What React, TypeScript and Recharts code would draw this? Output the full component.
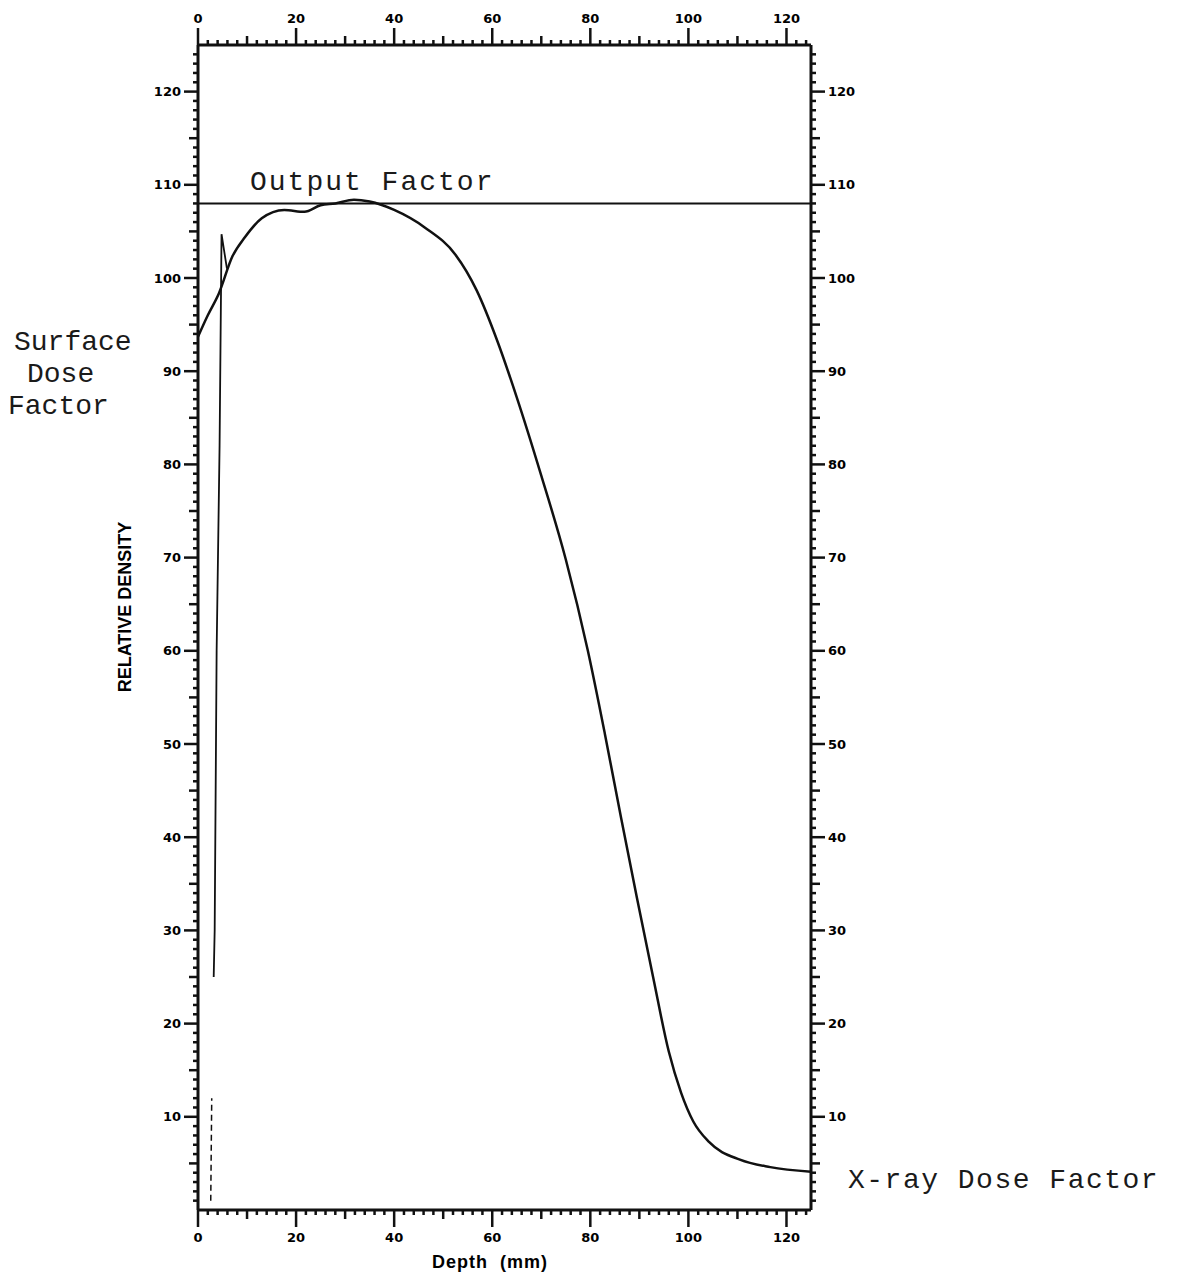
import { LineChart, Line, XAxis, YAxis } from "recharts"

// depth-dose curve, mm vs relative density
const DEPTH = [0, 2, 4.3, 7, 9.6, 13, 17.6, 21.7, 25, 28, 31.8, 35, 40, 46.3, 52.5, 56.8, 61, 65, 70, 75, 79.5, 83, 86.3, 89.5, 92.8, 96, 98.5, 101, 104.2, 110.5, 116.7, 125]
const DENSITY = [93.7, 96, 98.4, 102.3, 104.4, 106.4, 107.3, 107.1, 107.8, 108, 108.4, 108.2, 107.3, 105.4, 102.5, 98.7, 93.3, 87.2, 78.8, 69.8, 60, 51, 42, 33.5, 25, 17, 12.6, 9.5, 7.3, 5.4, 4.6, 4.1]

// surface spike near zero depth
const SPIKE_LOW_X = [2.6, 2.8]
const SPIKE_LOW_Y = [1, 12]
const SPIKE_X = [3.2, 3.4, 3.8, 4.4, 4.8, 5.9]
const SPIKE_Y = [25, 30, 60, 82, 104.7, 101]

const OUTPUT_FACTOR = 108

const X_LABELS = [0, 20, 40, 60, 80, 100, 120]
const Y_LABELS = [10, 20, 30, 40, 50, 60, 70, 80, 90, 100, 110, 120]

const X_TICKS = Array.from({ length: 63 }, (_, i) => i * 2)
const Y_TICKS = Array.from({ length: 124 }, (_, i) => i + 1)

const curve = DEPTH.map((x, i) => ({ x, y: DENSITY[i] }))
const spikeLow = SPIKE_LOW_X.map((x, i) => ({ x, y: SPIKE_LOW_Y[i] }))
const spike = SPIKE_X.map((x, i) => ({ x, y: SPIKE_Y[i] }))
const outputLine = [{ x: 0, y: OUTPUT_FACTOR }, { x: 125, y: OUTPUT_FACTOR }]

const INK = "#111"
const TICK_FONT = { fontFamily: "DejaVu Sans", fontWeight: 700, fontSize: 13, fill: "#000" }
const MONO = { fontFamily: "Liberation Mono", fontSize: 28, color: "#1a1a1a", lineHeight: "28px", whiteSpace: "pre" as const }

type TickProps = { x?: number; y?: number; payload?: { value: number } }

function tickLen(v: number, major: number, mid: number, long: number) {
  if (v % major === 0) return long
  if (v % mid === 0) return 9
  return 5
}

function yTick(side: "left" | "right") {
  return function Tick({ x = 0, y = 0, payload }: TickProps) {
    const v = payload ? payload.value : 0
    const len = tickLen(v, 10, 5, 14)
    const dir = side === "left" ? -1 : 1
    return (
      <g>
        <line x1={x} y1={y} x2={x + dir * len} y2={y} stroke={INK} strokeWidth={2.5} />
        {Y_LABELS.includes(v) && (
          <text x={x + dir * (len + 3)} y={y} textAnchor={side === "left" ? "end" : "start"} dominantBaseline="central" style={TICK_FONT}>
            {v}
          </text>
        )}
      </g>
    )
  }
}

function xTick(side: "top" | "bottom") {
  return function Tick({ x = 0, y = 0, payload }: TickProps) {
    const v = payload ? payload.value : 0
    const len = tickLen(v, 20, 10, 17)
    const dir = side === "top" ? -1 : 1
    return (
      <g>
        <line x1={x} y1={y} x2={x} y2={y + dir * len} stroke={INK} strokeWidth={2.5} />
        {X_LABELS.includes(v) && (
          <text x={x} y={y + dir * (len + 10)} textAnchor="middle" dominantBaseline="central" style={TICK_FONT}>
            {v}
          </text>
        )}
      </g>
    )
  }
}

const axisLine = { stroke: INK, strokeWidth: 3 }

export default function App() {
  return (
    <div style={{ position: "absolute", left: 0, top: 0, width: 1177, height: 1281, background: "#fff" }}>
      <LineChart width={1177} height={1281} margin={{ top: 0, right: 0, bottom: 0, left: 0 }}>
        <XAxis xAxisId="bottom" type="number" dataKey="x" domain={[0, 125]} ticks={X_TICKS} interval={0}
          height={71} axisLine={axisLine} tickLine={false} tickSize={0} tickMargin={0} tick={xTick("bottom")} />
        <XAxis xAxisId="top" orientation="top" type="number" dataKey="x" domain={[0, 125]} ticks={X_TICKS} interval={0}
          height={45} axisLine={axisLine} tickLine={false} tickSize={0} tickMargin={0} tick={xTick("top")} />
        <YAxis yAxisId="left" type="number" domain={[0, 125]} ticks={Y_TICKS} interval={0}
          width={198} axisLine={axisLine} tickLine={false} tickSize={0} tickMargin={0} tick={yTick("left")} />
        <YAxis yAxisId="right" orientation="right" type="number" domain={[0, 125]} ticks={Y_TICKS} interval={0}
          width={366} axisLine={axisLine} tickLine={false} tickSize={0} tickMargin={0} tick={yTick("right")} />
        <Line xAxisId="top" yAxisId="right" data={outputLine} dataKey="y" type="linear" stroke={INK} strokeWidth={2} dot={false} isAnimationActive={false} />
        <Line xAxisId="bottom" yAxisId="left" data={curve} dataKey="y" type="monotone" stroke={INK} strokeWidth={2.5} dot={false} isAnimationActive={false} />
        <Line xAxisId="bottom" yAxisId="left" data={spike} dataKey="y" type="linear" stroke={INK} strokeWidth={1.8} dot={false} isAnimationActive={false} />
        <Line xAxisId="bottom" yAxisId="left" data={spikeLow} dataKey="y" type="linear" stroke={INK} strokeWidth={1.5} strokeDasharray="6 4" dot={false} isAnimationActive={false} />
      </LineChart>

      <div style={{ ...MONO, position: "absolute", left: 250, top: 169, letterSpacing: 2 }}>Output Factor</div>
      <div style={{ ...MONO, position: "absolute", left: 848, top: 1167, letterSpacing: 1.5 }}>X-ray Dose Factor</div>
      <div style={{ ...MONO, position: "absolute", left: 14, top: 329 }}>Surface</div>
      <div style={{ ...MONO, position: "absolute", left: 27, top: 361 }}>Dose</div>
      <div style={{ ...MONO, position: "absolute", left: 8, top: 393 }}>Factor</div>

      <div style={{ position: "absolute", left: 125, top: 607, transform: "translate(-50%, -50%) rotate(-90deg)", fontFamily: "Liberation Sans", fontWeight: 700, fontSize: 18, whiteSpace: "nowrap", color: "#000" }}>
        RELATIVE DENSITY
      </div>
      <div style={{ position: "absolute", left: 490, top: 1262, transform: "translate(-50%, -50%)", fontFamily: "Liberation Sans", fontWeight: 700, fontSize: 18, letterSpacing: 1, whiteSpace: "pre", color: "#000" }}>
        {"Depth  (mm)"}
      </div>
    </div>
  )
}
